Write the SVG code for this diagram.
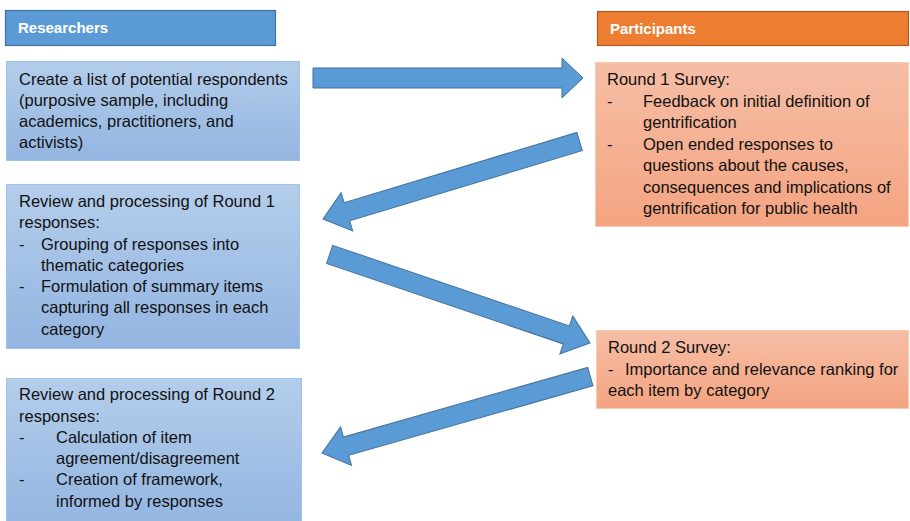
<svg xmlns="http://www.w3.org/2000/svg" width="910" height="521" viewBox="0 0 910 521">
<defs>
<linearGradient id="gBlue" x1="0" y1="0" x2="0" y2="1">
<stop offset="0" stop-color="#b4cdeb"/>
<stop offset="1" stop-color="#93b5e1"/>
</linearGradient>
<linearGradient id="gOrange" x1="0" y1="0" x2="0" y2="1">
<stop offset="0" stop-color="#f6bea6"/>
<stop offset="1" stop-color="#f4a481"/>
</linearGradient>
</defs>
<style>
.hdrB{fill:#5b9bd5;stroke:#41719c;stroke-width:1.2}
.hdrO{fill:#ed7d31;stroke:#ae5a21;stroke-width:1.2}
.boxB{fill:url(#gBlue);stroke:#9dc3e6;stroke-width:1}
.boxO{fill:url(#gOrange);stroke:#f8cbad;stroke-width:1}
.ht{font-family:"Liberation Sans",Arial,sans-serif;font-weight:bold;font-size:15px;fill:#ffffff}
.t{font-family:"Liberation Sans",Arial,sans-serif;font-size:16.5px;fill:#111111}
.arr{fill:#5b9bd5;stroke:#41719c;stroke-width:1}
</style>
<rect width="910" height="521" fill="#ffffff"/>

<g id="hdr-researchers">
<rect class="hdrB" x="5.5" y="10.5" width="270" height="35"/>
<text class="ht" x="18" y="33">Researchers</text>
</g>

<g id="hdr-participants">
<rect class="hdrO" x="597.5" y="11.5" width="311" height="34"/>
<text class="ht" x="610" y="34">Participants</text>
</g>

<g id="node-create-list">
<rect class="boxB" x="6.5" y="61.5" width="293" height="99"/>
<text class="t" x="19" y="85">Create a list of potential respondents</text>
<text class="t" x="19" y="106">(purposive sample, including</text>
<text class="t" x="19" y="127">academics, practitioners, and</text>
<text class="t" x="19" y="148">activists)</text>
</g>

<g id="node-round1-survey">
<rect class="boxO" x="595.5" y="62.5" width="313" height="164"/>
<text class="t" x="607" y="85">Round 1 Survey:</text>
<text class="t" x="607" y="107">-</text>
<text class="t" x="643" y="107">Feedback on initial definition of</text>
<text class="t" x="643" y="128">gentrification</text>
<text class="t" x="607" y="150">-</text>
<text class="t" x="643" y="150">Open ended responses to</text>
<text class="t" x="643" y="171">questions about the causes,</text>
<text class="t" x="643" y="193">consequences and implications of</text>
<text class="t" x="643" y="214">gentrification for public health</text>
</g>

<g id="node-review-round1">
<rect class="boxB" x="6.5" y="184.5" width="293" height="164"/>
<text class="t" x="19" y="207">Review and processing of Round 1</text>
<text class="t" x="19" y="228">responses:</text>
<text class="t" x="19" y="250">-</text>
<text class="t" x="41" y="250">Grouping of responses into</text>
<text class="t" x="41" y="271">thematic categories</text>
<text class="t" x="19" y="292">-</text>
<text class="t" x="41" y="292">Formulation of summary items</text>
<text class="t" x="41" y="313">capturing all responses in each</text>
<text class="t" x="41" y="335">category</text>
</g>

<g id="node-round2-survey">
<rect class="boxO" x="596.5" y="330.5" width="312" height="78"/>
<text class="t" x="608" y="353">Round 2 Survey:</text>
<text class="t" x="608" y="375">-</text>
<text class="t" x="625" y="375">Importance and relevance ranking for</text>
<text class="t" x="608" y="396">each item by category</text>
</g>

<g id="node-review-round2">
<rect class="boxB" x="6.5" y="378.5" width="295" height="150"/>
<text class="t" x="19" y="400">Review and processing of Round 2</text>
<text class="t" x="19" y="422">responses:</text>
<text class="t" x="19" y="443">-</text>
<text class="t" x="56" y="443">Calculation of item</text>
<text class="t" x="56" y="464">agreement/disagreement</text>
<text class="t" x="19" y="485">-</text>
<text class="t" x="56" y="485">Creation of framework,</text>
<text class="t" x="56" y="507">informed by responses</text>
</g>

<g id="connectors">
<path class="arr" transform="translate(583,78)" d="M-270,-10 L-21,-10 L-21,-20 L0,0 L-21,20 L-21,10 L-270,10 Z"/>
<path class="arr" transform="translate(323,219) rotate(163.2)" d="M-268,-9.5 L-25,-9.5 L-25,-20 L0,0 L-25,20 L-25,9.5 L-268,9.5 Z"/>
<path class="arr" transform="translate(590,343) rotate(18.8)" d="M-275,-9.5 L-25,-9.5 L-25,-20 L0,0 L-25,20 L-25,9.5 L-275,9.5 Z"/>
<path class="arr" transform="translate(322,453) rotate(164.1)" d="M-279,-9.5 L-25,-9.5 L-25,-20 L0,0 L-25,20 L-25,9.5 L-279,9.5 Z"/>
</g>
</svg>
